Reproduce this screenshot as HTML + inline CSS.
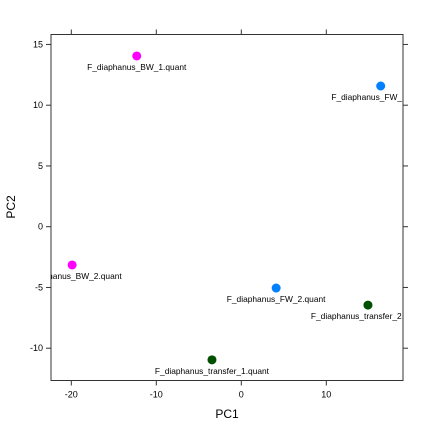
<!DOCTYPE html>
<html><head><style>body{margin:0;background:#fff}svg{display:block;font-family:"Liberation Sans",sans-serif}</style></head>
<body>
<svg id="c" width="432" height="432"></svg>
<script>
const labels=["F_diaphanus_BW_1.quant","F_diaphanus_FW_1.quant","F_diaphanus_BW_2.quant","F_diaphanus_FW_2.quant","F_diaphanus_transfer_2.quant","F_diaphanus_transfer_1.quant"];
const pc1=[-12.3,16.4,-19.9,4.1,14.9,-3.45];
const pc2=[14.05,11.58,-3.15,-5.05,-6.45,-10.96];
const colors=["#ff00ff","#0080ff","#ff00ff","#0080ff","#005000","#005000"];
const xTicks=[-20,-10,0,10];
const yTicks=[-10,-5,0,5,10,15];
const L=51,R=403,T=34.5,B=380.5;
const sx=v=>241.3+v*8.5, sy=v=>226.7-v*12.15;
const svg=document.getElementById('c');const NS="http://www.w3.org/2000/svg";
function mk(t,a,p){const e=document.createElementNS(NS,t);for(const k in a)e.setAttribute(k,a[k]);(p||svg).appendChild(e);return e;}
const defs=mk('defs',{});const cp=mk('clipPath',{id:'cl'},defs);mk('rect',{x:L,y:T,width:R-L,height:B-T},cp);
const frame=mk('rect',{x:L,y:T,width:R-L,height:B-T,fill:'none',stroke:'#333','stroke-width':1});

xTicks.forEach(v=>{const x=sx(v);
mk('line',{x1:x,x2:x,y1:B,y2:B+5,stroke:'#333'});mk('line',{x1:x,x2:x,y1:T,y2:T-5,stroke:'#333'});
const t=mk('text',{x:x,y:B+17,'font-size':9,'text-anchor':'middle',fill:'#000'});t.textContent=v;
});
yTicks.forEach(v=>{const y=sy(v);
mk('line',{x1:L,x2:L-5,y1:y,y2:y,stroke:'#333'});mk('line',{x1:R,x2:R+5,y1:y,y2:y,stroke:'#333'});
const t=mk('text',{x:L-8,y:y+3,'font-size':9,'text-anchor':'end',fill:'#000'});t.textContent=v;
});
const g=mk('g',{'clip-path':'url(#cl)'});
labels.forEach((l,i)=>{const x=sx(pc1[i]),y=sy(pc2[i]);
const c=mk('circle',{cx:x,cy:y,r:4.5,fill:colors[i]},g);

const t=mk('text',{x:x,y:y+14,'font-size':8.4,'text-anchor':'middle',fill:'#000'},g);t.textContent=l;
});
const xt=mk('text',{x:227,y:418,'font-size':12,'text-anchor':'middle'});xt.textContent='PC1';

const yt=mk('text',{x:15,y:207,'font-size':12,'text-anchor':'middle',transform:'rotate(-90 15 207)'});yt.textContent='PC2';

</script>
</body></html>
